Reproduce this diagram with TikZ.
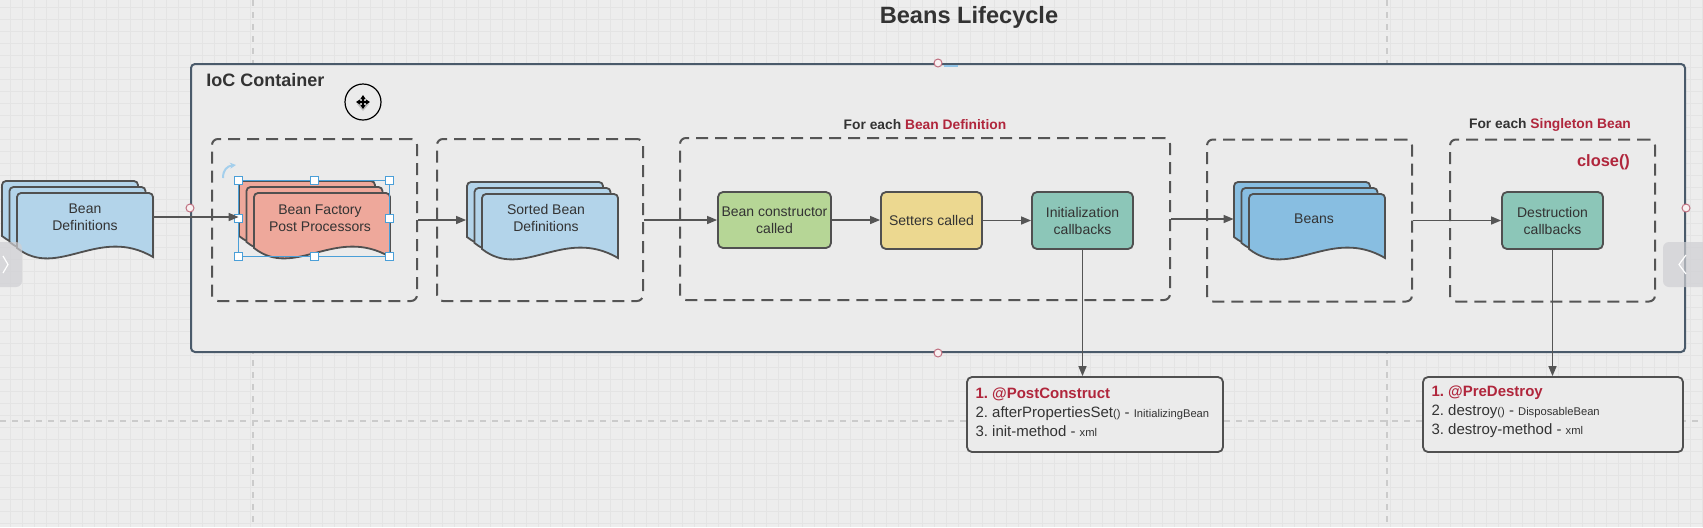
\documentclass[tikz,border=0pt]{standalone}
\usepackage{fontspec}
\setmainfont{Liberation Sans}
\usetikzlibrary{arrows.meta}
\frenchspacing
\definecolor{bg}{HTML}{EDEDED}
\definecolor{gridc}{HTML}{E4E4E4}
\definecolor{guide}{HTML}{CBCBCB}
\definecolor{contfill}{HTML}{EBEBEB}
\definecolor{contline}{HTML}{4A5A6A}
\definecolor{boxgray}{HTML}{505050}
\definecolor{dashgray}{HTML}{555555}
\definecolor{linegray}{HTML}{555555}
\definecolor{txt}{HTML}{333333}
\definecolor{redt}{HTML}{B0263C}
\definecolor{docblue}{HTML}{B3D4EA}
\definecolor{beansblue}{HTML}{88BEE1}
\definecolor{salmon}{HTML}{EEA89B}
\definecolor{greenb}{HTML}{B6D696}
\definecolor{yellowb}{HTML}{ECD890}
\definecolor{tealb}{HTML}{8CC6B8}
\definecolor{selblue}{HTML}{4A9FD8}
\definecolor{pinkc}{HTML}{C07080}
\definecolor{tabgray}{HTML}{CFCFD3}
\newcommand\smtxt[1]{{\fontsize{5.6}{9.5}\selectfont #1}}
\newcommand\docsh[3]{%
  \filldraw[docline, fill=#3] (#1,{#2+55}) [rounded corners=2pt] -- (#1,#2) -- ({#1+136},#2) [sharp corners] -- ({#1+136},{#2+64})
    .. controls ({#1+81.6},{#2+32}) and ({#1+40.8},{#2+87}) .. (#1,{#2+55}) -- cycle;}
\newcommand\docstack[3]{%
  \docsh{#1-15}{#2-12}{#3}\docsh{#1-7.5}{#2-6}{#3}\docsh{#1}{#2}{#3}}
\tikzset{
  arr/.style={draw=linegray, line width=0.7pt, -{Triangle[length=5pt,width=4pt]}},
  dbox/.style={draw=dashgray, line width=1pt, dash pattern=on 6pt off 3.5pt, rounded corners=3pt, minimum height=81pt, inner sep=0pt},
  proc/.style={draw=boxgray, line width=0.9pt, rounded corners=2.5pt, minimum width=50.5pt, minimum height=28.5pt, align=center, font=\fontsize{7}{8.5}\selectfont, text=txt, inner sep=1pt},
  docline/.style={draw=boxgray, line width=0.9pt},
  doctext/.style={align=center, font=\fontsize{7}{8.5}\selectfont, text=txt, minimum height=37.5pt, inner sep=0pt},
  res/.style={draw=boxgray, fill=contfill, line width=0.9pt, rounded corners=2.5pt, minimum height=37.5pt, inner sep=0pt},
  restext/.style={anchor=west, align=left, font=\fontsize{7.5}{9.5}\selectfont, text=txt, inner sep=0pt, xshift=4.5pt, yshift=1.25pt},
  hd/.style={font=\bfseries\fontsize{6.9}{8}\selectfont, text=txt},
  handle/.style={draw=selblue, fill=white, line width=0.5pt, minimum size=4pt, inner sep=0pt},
  pinkdot/.style={draw=pinkc, fill=white!90!pinkc, line width=0.5pt},
}
\begin{document}
\begin{tikzpicture}[x=0.5pt,y=-0.5pt]
\useasboundingbox (0,0) rectangle (1703,527);
% background and grid
\fill[bg] (0,0) rectangle (1703,527);
\foreach \x in {10,22,...,1702} \draw[gridc, line width=0.4pt] (\x,0) -- (\x,527);
\foreach \y in {7,19,...,527} \draw[gridc, line width=0.4pt] (0,\y) -- (1703,\y);
\draw[guide, line width=0.6pt, dash pattern=on 3pt off 3pt] (253,0) -- (253,527);
\draw[guide, line width=0.6pt, dash pattern=on 3pt off 3pt] (1387,0) -- (1387,527);
\draw[guide, line width=0.6pt, dash pattern=on 3pt off 3pt] (0,421) -- (1703,421);

% title
\node[font=\bfseries\fontsize{11.8}{14}\selectfont, text=txt] (title) at (969,17) {Beans Lifecycle};

% container
\node[draw=contline, fill=contfill, line width=1pt, rounded corners=2pt, minimum width=747pt, minimum height=144pt, inner sep=0pt] (cont) at (938,208) {};
\node[anchor=west, inner sep=0pt, font=\bfseries\fontsize{9}{11}\selectfont, text=txt] (ioc) at (206,80) {IoC Container};

% move cursor
\draw[black, line width=0.6pt] (363,102) circle[radius=9pt];
\fill[black!25] (363,97) -- (369,104) -- (363,111) -- (357,104) -- cycle;
\draw[black, line width=0.8pt, {Triangle[length=2pt,width=2.5pt]}-{Triangle[length=2pt,width=2.5pt]}] (356,102) -- (370,102);
\draw[black, line width=0.8pt, {Triangle[length=2pt,width=2.5pt]}-{Triangle[length=2pt,width=2.5pt]}] (363,95) -- (363,109);

% dashed groups
\node[dbox, minimum width=102.5pt] (dash1) at (314.5,220) {};
\node[dbox, minimum width=103pt] (dash2) at (540,220) {};
\node[dbox, minimum width=245pt] (dash3) at (925,219) {};
\node[dbox, minimum width=102.5pt] (dash4) at (1309.5,220.5) {};
\node[dbox, minimum width=102.5pt] (dash5) at (1552.5,220.5) {};
\node[hd] (lblA) at (925,125) {For each {\color{redt}Bean Definition}};
\node[hd] (lblB) at (1550,125) {For each {\color{redt}Singleton Bean}};
\node[anchor=east, font=\bfseries\fontsize{8.2}{10}\selectfont, text=redt] (closelbl) at (1637,162) {close()};

% document stacks
\docstack{17}{193}{docblue}
\node[doctext, minimum width=68pt] (bdef) at (85,217) {Bean\\Definitions};
\docstack{254}{193}{salmon}
\node[doctext, minimum width=75pt] (bfpp) at (314,218.5) {\hspace*{6pt}Bean Factory\\\hspace*{6pt}Post Processors};
\docstack{482}{194}{docblue}
\node[doctext, minimum width=75.5pt] (sorted) at (542,218) {\hspace*{4pt}Sorted Bean\\\hspace*{4pt}Definitions};
\docstack{1249}{194}{beansblue}
\node[doctext, minimum width=76pt] (beans) at (1310,219) {\hspace*{4pt}Beans};

% selection handles on BFPP
\draw[selblue, line width=0.5pt] (bfpp.north west) rectangle (bfpp.south east);
\foreach \a in {north west,north,north east,west,east,south west,south,south east}
  \node[handle] at (bfpp.\a) {};
\draw[selblue!50, line width=1pt, -{Stealth[length=3pt,width=3pt]}] (223,178) .. controls (223,170) and (227,166) .. (236,165);

% process boxes
\node[proc, fill=greenb, minimum width=56.5pt, minimum height=28pt] (ctor) at (774.5,220) {Bean constructor\\called};
\node[proc, fill=yellowb] (setters) at (931.5,220.5) {Setters called};
\node[proc, fill=tealb] (init) at (1082.5,220.5) {Initialization\\callbacks};
\node[proc, fill=tealb] (destr) at (1552.5,220.5) {Destruction\\callbacks};

% result boxes
\node[res, minimum width=128pt] (post) at (1095,414.5) {};
\node[restext] (posttxt) at (post.west) {{\color{redt}\bfseries 1. @PostConstruct}\\2. afterPropertiesSet\smtxt{()} - \smtxt{InitializingBean}\\3. init-method - \smtxt{xml}};
\node[res, minimum width=130pt] (pre) at (1553,414.5) {};
\node[restext] (pretxt) at (pre.west) {{\color{redt}\bfseries 1. @PreDestroy}\\2. destroy\smtxt{()} - \smtxt{DisposableBean}\\3. destroy-method - \smtxt{xml}};

% connectors
\draw[arr] (bdef.east) -- (bdef.east -| bfpp.west);
\draw[arr] (dash1.east) -- (dash1.east -| sorted.west);
\draw[arr] (dash2.east) -- (dash2.east -| ctor.west);
\draw[arr] (ctor.east) -- (ctor.east -| setters.west);
\draw[arr] (setters.east) -- (setters.east -| init.west);
\draw[arr] (dash3.east) -- (dash3.east -| beans.west);
\draw[arr] (dash4.east) -- (dash4.east -| destr.west);
\draw[arr] (init.south) -- (init.south |- post.north);
\draw[arr] (destr.south) -- (destr.south |- pre.north);

% side tabs
\fill[tabgray, opacity=0.7, rounded corners=3pt] (-10,242) rectangle (22,287);
\draw[white, line width=0.6pt] (3,256) -- (8,264.5) -- (3,273);
\fill[tabgray, opacity=0.7, rounded corners=3pt] (1663,242) rectangle (1713,287);
\draw[white, line width=0.6pt] (1686,255) -- (1679,264.5) -- (1686,274);

% container connection dots
\draw[selblue!60, line width=1pt] (944,66) -- (958,66);
\draw[pinkdot] (cont.north) circle[radius=2pt];
\draw[pinkdot] (cont.south) circle[radius=2pt];
\draw[pinkdot] (cont.west) circle[radius=2pt];
\draw[pinkdot] (cont.east) circle[radius=2pt];
\end{tikzpicture}
\end{document}
